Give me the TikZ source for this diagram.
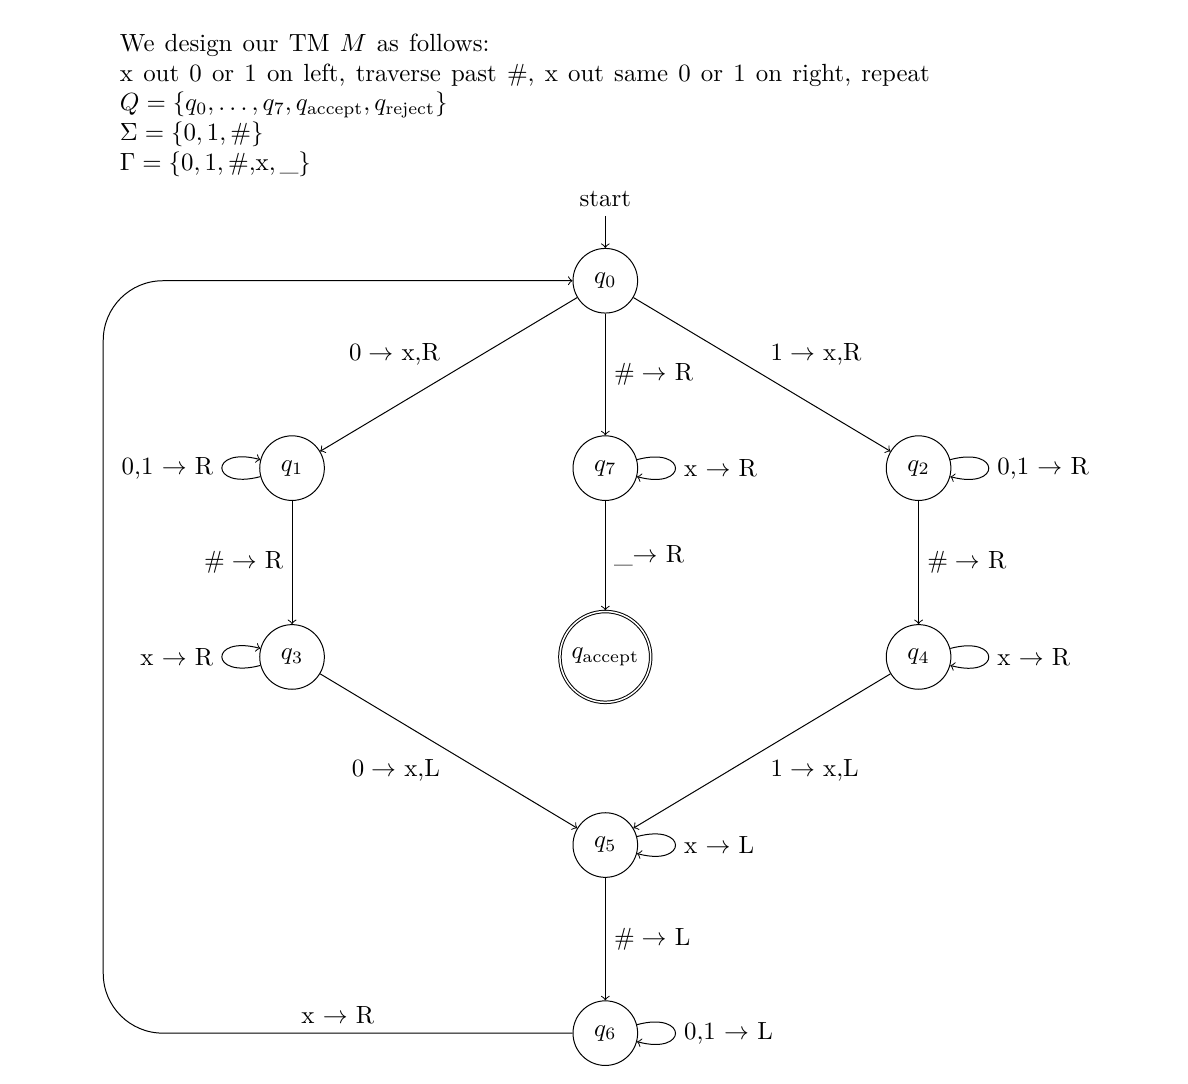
\documentclass[tikz,border=0pt]{standalone}
\usepackage{amsmath}
\usepackage{amssymb}
\usetikzlibrary{automata, positioning, arrows}

\begin{document}
\begin{tikzpicture}[every state/.style={minimum size=26pt}, initial text=start]
\useasboundingbox (-8.56,3.97) rectangle (8.24,-11.35);
\node[anchor=north west, align=left, inner sep=0pt, font={\spaceskip=4.1pt plus 1pt\relax}] (intro) at (-6.87,3.50) {We design our TM $M$ as follows:\\
x out 0 or 1 on left, traverse past \#, x out same 0 or 1 on right, repeat\\
$Q = \{q_0, \ldots, q_7, q_{\text{accept}}, q_{\text{reject}}\}$\\
$\Sigma = \{0, 1, \#\}$\\
$\Gamma = \{0, 1, \#,$x$, \_\}$};

\node[state, initial above] (q0) at (0,0) {$q_0$};
\node[state] (q1) at (-4.43,-2.65) {$q_1$};
\node[state] (q7) at (0,-2.65) {$q_7$};
\node[state] (q2) at (4.43,-2.65) {$q_2$};
\node[state] (q3) at (-4.43,-5.32) {$q_3$};
\node[state, accepting] (qacc) at (0,-5.32) {$q_{\text{accept}}$};
\node[state] (q4) at (4.43,-5.32) {$q_4$};
\node[state] (q5) at (0,-7.98) {$q_5$};
\node[state] (q6) at (0,-10.64) {$q_6$};
\coordinate (back) at (-7.10,0);

\draw[->] (q0) -- node[above left] {$0 \rightarrow$ x,R} (q1);
\draw[->] (q0) -- node[right] {$\# \rightarrow$ R} (q7);
\draw[->] (q0) -- node[above right] {$1 \rightarrow$ x,R} (q2);
\draw[->] (q1) -- node[left] {$\# \rightarrow$ R} (q3);
\draw[->] (q7) -- node[right] {\_$\rightarrow$ R} (qacc);
\draw[->] (q2) -- node[right] {$\# \rightarrow$ R} (q4);
\draw[->] (q3) -- node[below left] {$0 \rightarrow$ x,L} (q5);
\draw[->] (q4) -- node[below right] {$1 \rightarrow$ x,L} (q5);
\draw[->] (q5) -- node[right] {$\# \rightarrow$ L} (q6);
\draw[->, rounded corners=24pt] (q6) -- node[above] {x $\rightarrow$ R} (back |- q6) -- (back) -- (q0);

\draw[->] (q1) to[loop left] node[left] {0,1 $\rightarrow$ R} (q1);
\draw[->] (q3) to[loop left] node[left] {x $\rightarrow$ R} (q3);
\draw[->] (q7) to[loop right] node[right] {x $\rightarrow$ R} (q7);
\draw[->] (q2) to[loop right] node[right] {0,1 $\rightarrow$ R} (q2);
\draw[->] (q4) to[loop right] node[right] {x $\rightarrow$ R} (q4);
\draw[->] (q5) to[loop right] node[right] {x $\rightarrow$ L} (q5);
\draw[->] (q6) to[loop right] node[right] {0,1 $\rightarrow$ L} (q6);
\end{tikzpicture}
\end{document}
